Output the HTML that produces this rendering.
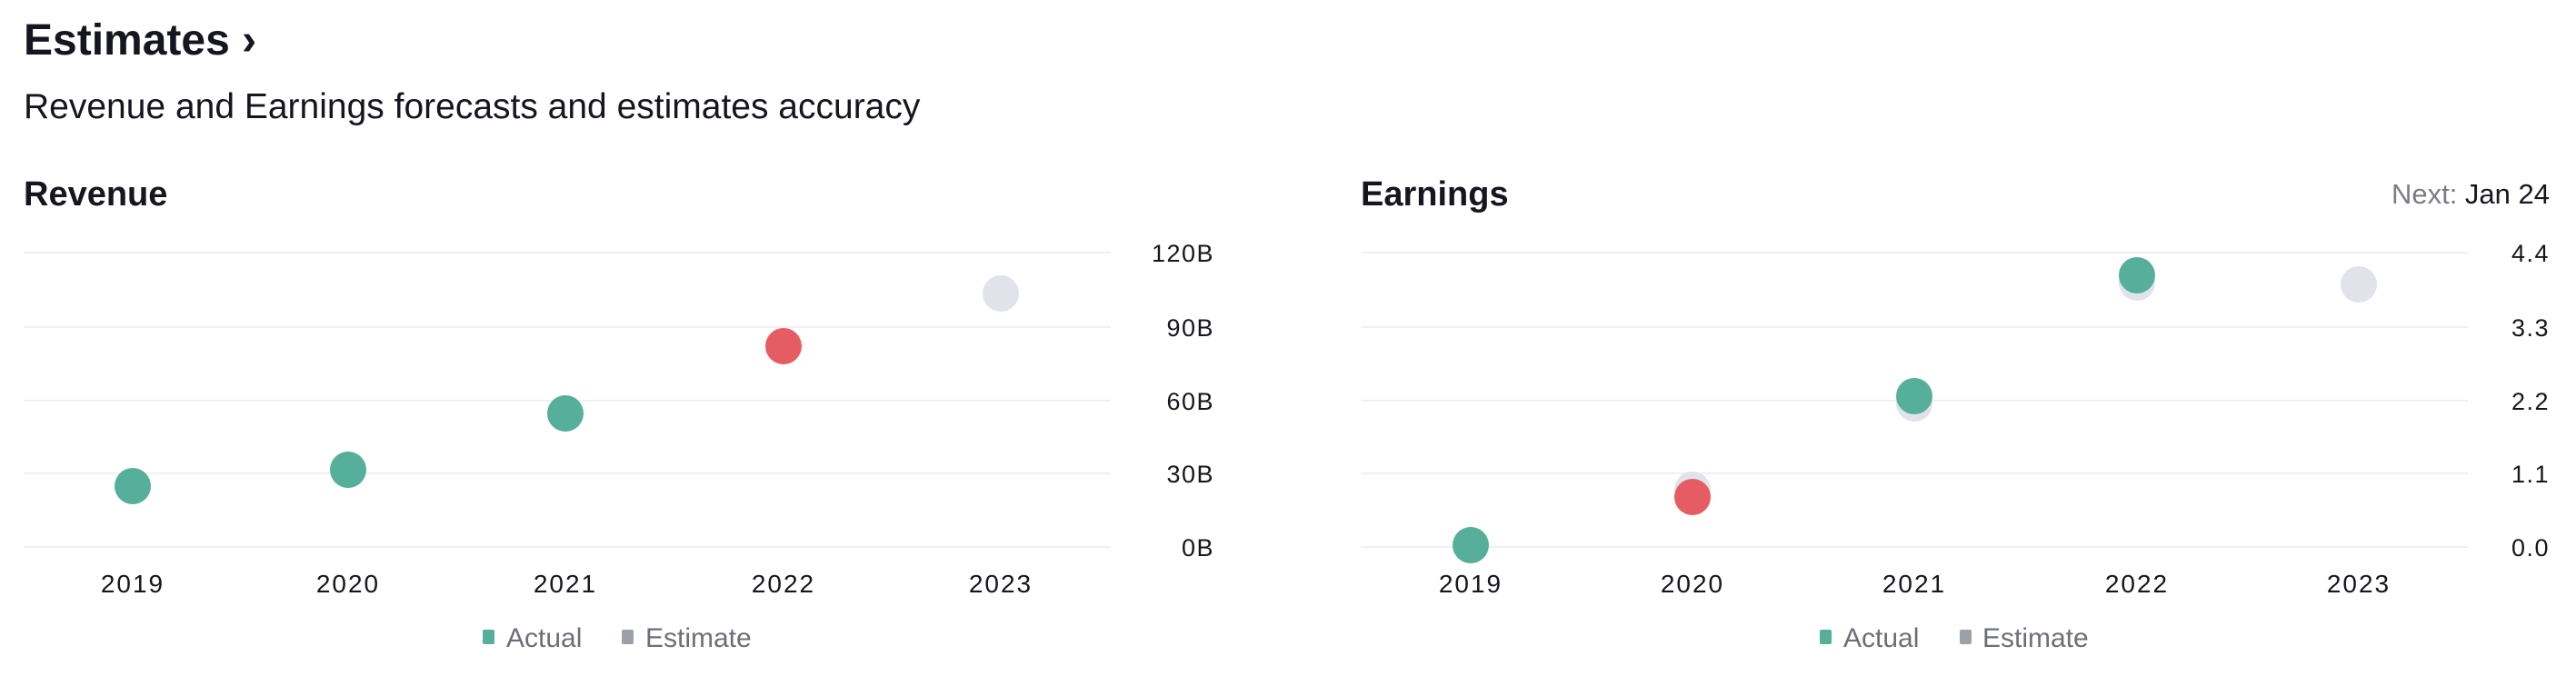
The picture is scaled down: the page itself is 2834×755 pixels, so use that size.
<!DOCTYPE html>
<html><head><meta charset="utf-8"><style>
html,body{margin:0;padding:0;background:#fff;}
body{width:2834px;height:750px;overflow:hidden;font-family:"Liberation Sans",sans-serif;}
</style></head><body>
<svg width="2834" height="750" xmlns="http://www.w3.org/2000/svg" font-family="Liberation Sans, sans-serif">
<text x="26" y="60" font-size="48" font-weight="bold" fill="#15161f">Estimates ›</text>
<text x="26" y="130" font-size="39" fill="#15161f">Revenue and Earnings forecasts and estimates accuracy</text>
<text x="26" y="226" font-size="38" font-weight="bold" fill="#15161f">Revenue</text>
<text x="1497" y="226" font-size="38" font-weight="bold" fill="#15161f">Earnings</text>
<text x="2805" y="224" font-size="31" text-anchor="end" fill="#15161f"><tspan fill="#7a7d85">Next: </tspan>Jan 24</text>
<g stroke="#eff0f3" stroke-width="2">
<line x1="26" x2="1222" y1="278" y2="278"/><line x1="26" x2="1222" y1="360" y2="360"/><line x1="26" x2="1222" y1="441" y2="441"/><line x1="26" x2="1222" y1="521" y2="521"/><line x1="26" x2="1222" y1="602" y2="602"/>
<line x1="1497" x2="2715" y1="278" y2="278"/><line x1="1497" x2="2715" y1="360" y2="360"/><line x1="1497" x2="2715" y1="441" y2="441"/><line x1="1497" x2="2715" y1="521" y2="521"/><line x1="1497" x2="2715" y1="602" y2="602"/>
</g>
<g font-size="27" fill="#15161f" text-anchor="end" letter-spacing="1.5">
<text x="1336" y="288">120B</text><text x="1336" y="370">90B</text><text x="1336" y="451">60B</text><text x="1336" y="531">30B</text><text x="1336" y="612">0B</text>
<text x="2805" y="288">4.4</text><text x="2805" y="370">3.3</text><text x="2805" y="451">2.2</text><text x="2805" y="531">1.1</text><text x="2805" y="612">0.0</text>
</g>
<g font-size="28" fill="#15161f" text-anchor="middle" letter-spacing="2">
<text x="146" y="652">2019</text><text x="383" y="652">2020</text><text x="622" y="652">2021</text><text x="862" y="652">2022</text><text x="1101" y="652">2023</text>
<text x="1618" y="652">2019</text><text x="1862" y="652">2020</text><text x="2106" y="652">2021</text><text x="2351" y="652">2022</text><text x="2595" y="652">2023</text>
</g>
<circle cx="146" cy="535" r="20" fill="#55af9a"/>
<circle cx="383" cy="517" r="20" fill="#55af9a"/>
<circle cx="622" cy="455" r="20" fill="#55af9a"/>
<circle cx="862" cy="381" r="20" fill="#e55d63"/>
<circle cx="1101" cy="323" r="20" fill="#e0e3ea"/>
<circle cx="1862" cy="539" r="20" fill="#e0e3ea"/>
<circle cx="2106" cy="444" r="20" fill="#e0e3ea"/>
<circle cx="2351" cy="311" r="20" fill="#e0e3ea"/>
<circle cx="2595" cy="313" r="20" fill="#e0e3ea"/>
<circle cx="1618" cy="600" r="20" fill="#55af9a"/>
<circle cx="1862" cy="547" r="20" fill="#e55d63"/>
<circle cx="2106" cy="436" r="20" fill="#55af9a"/>
<circle cx="2351" cy="303" r="20" fill="#55af9a"/>
<g font-size="30" fill="#6b6f78">
<rect x="531" y="693" width="13" height="16" rx="2" fill="#55af9a"/><text x="557" y="712">Actual</text>
<rect x="684" y="693" width="13" height="16" rx="2" fill="#9ca0a8"/><text x="710" y="712">Estimate</text>
<rect x="2002" y="693" width="13" height="16" rx="2" fill="#55af9a"/><text x="2028" y="712">Actual</text>
<rect x="2156" y="693" width="13" height="16" rx="2" fill="#9ca0a8"/><text x="2181" y="712">Estimate</text>
</g>
</svg>
</body></html>
